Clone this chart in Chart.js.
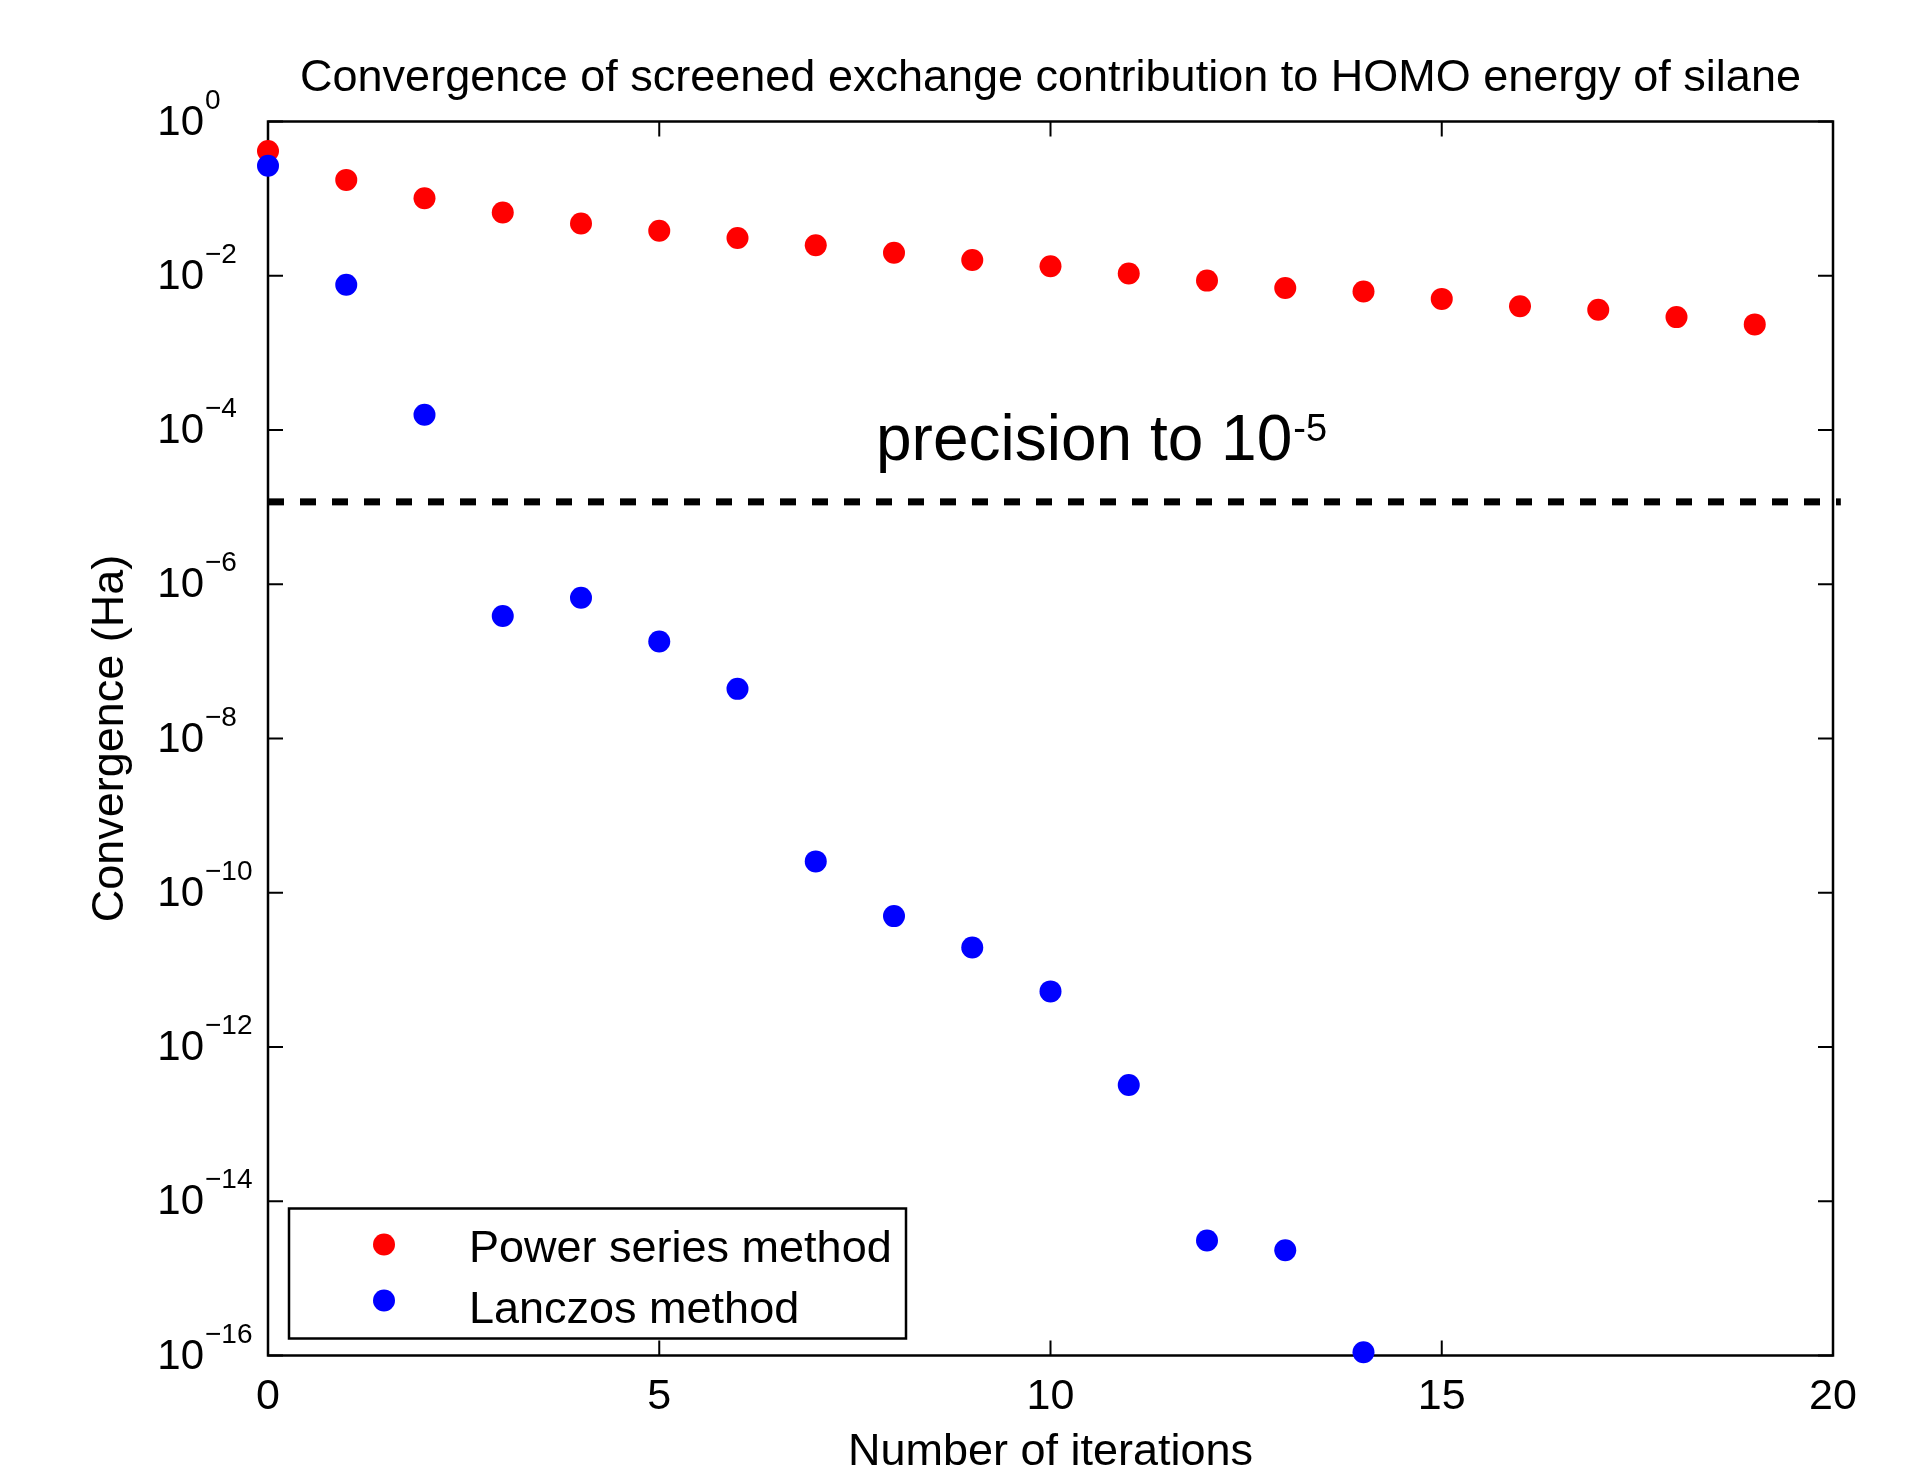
<!DOCTYPE html>
<html lang="en">
<head>
<meta charset="UTF-8">
<title>Convergence of screened exchange contribution to HOMO energy of silane</title>
<script src="https://cdn.jsdelivr.net/npm/chart.js"></script>
<style>
    html, body { margin: 0; padding: 0; background: #fff; }
    #wrap { width: 1905px; height: 1473px; position: relative; }
</style>
</head>
<body>
<div id="wrap"><canvas id="chart"></canvas></div>
<script>
    // values (log y axis)
    const powerIter = [0, 1, 2, 3, 4, 5, 6, 7, 8, 9, 10, 11, 12, 13, 14, 15, 16, 17, 18, 19];
    const powerSeries = [0.415, 0.175, 0.101, 0.0659, 0.0476, 0.0383, 0.0308, 0.0248, 0.0199, 0.0160,
                         0.0133, 0.0107, 0.00865, 0.00695, 0.00624, 0.00501, 0.00403, 0.00362, 0.00291, 0.00234];
    const lanczosIter = [0, 1, 2, 3, 4, 5, 6, 7, 8, 9, 10, 11, 12, 13, 14];
    const lanczos = [0.267, 0.00765, 1.58e-4, 3.87e-7, 6.69e-7, 1.81e-7, 4.40e-8, 2.55e-10, 4.98e-11,
                     1.95e-11, 5.26e-12, 3.22e-13, 3.10e-15, 2.32e-15, 1.10e-16];
    const precisionX = [0, 20.1];
    const precisionLevel = 1.17e-5;
    const yExponents = [0, -2, -4, -6, -8, -10, -12, -14, -16];
    const xTickValues = [0, 5, 10, 15, 20];

    const FONT = '"Liberation Sans", Arial, Helvetica, sans-serif';

    const toPoints = (xs, ys) => xs.map((x, i) => ({ x: x, y: ys[i] }));

    // box, inward ticks, y labels with exponents, annotation and legend
    const frame = {
        id: 'frame',
        beforeDatasetsDraw(chart) {
            const { ctx, chartArea: a, scales: { x, y } } = chart;
            ctx.save();
            ctx.strokeStyle = '#000';
            ctx.lineWidth = 2.5;
            ctx.strokeRect(a.left, a.top, a.right - a.left, a.bottom - a.top);
            ctx.lineWidth = 2;
            ctx.beginPath();
            xTickValues.forEach(v => {
                const px = x.getPixelForValue(v);
                ctx.moveTo(px, a.bottom); ctx.lineTo(px, a.bottom - 15);
                ctx.moveTo(px, a.top); ctx.lineTo(px, a.top + 15);
            });
            yExponents.forEach(e => {
                const py = y.getPixelForValue(Math.pow(10, e));
                ctx.moveTo(a.left, py); ctx.lineTo(a.left + 15, py);
                ctx.moveTo(a.right, py); ctx.lineTo(a.right - 15, py);
            });
            ctx.stroke();
            ctx.restore();
        },
        afterDraw(chart) {
            const { ctx, chartArea: a, scales: { x, y } } = chart;
            ctx.save();
            ctx.fillStyle = '#000';
            ctx.textBaseline = 'alphabetic';

            // y tick labels 10^e
            yExponents.forEach(e => {
                const py = y.getPixelForValue(Math.pow(10, e));
                ctx.font = '42px ' + FONT;
                ctx.textAlign = 'right';
                ctx.fillText('10', a.left - 64, py + 13);
                ctx.font = '28px ' + FONT;
                ctx.textAlign = 'left';
                ctx.fillText(e === 0 ? '0' : '\u2212' + (-e), a.left - 63, py - 13);
            });

            // annotation above the dashed line
            const ly = y.getPixelForValue(precisionLevel) - 42;
            const lx = a.left + 608;
            ctx.font = '64px ' + FONT;
            ctx.textAlign = 'left';
            const main = 'precision to 10';
            ctx.fillText(main, lx, ly);
            const w = ctx.measureText(main).width;
            ctx.font = '38px ' + FONT;
            ctx.fillText('-5', lx + w + 1, ly - 19);

            // legend box
            const bx = a.left + 21, by = a.bottom - 147, bw = 617, bh = 130;
            ctx.fillStyle = '#fff';
            ctx.fillRect(bx, by, bw, bh);
            ctx.strokeStyle = '#000';
            ctx.lineWidth = 2.5;
            ctx.strokeRect(bx, by, bw, bh);
            const rows = [chart.data.datasets[0], chart.data.datasets[1]];
            const markY = [by + 36, by + 92];
            const textY = [by + 41, by + 102];
            ctx.font = '45px ' + FONT;
            ctx.textBaseline = 'middle';
            rows.forEach((ds, i) => {
                ctx.fillStyle = ds.backgroundColor;
                ctx.beginPath();
                ctx.arc(bx + 95, markY[i], 11, 0, Math.PI * 2);
                ctx.fill();
                ctx.fillStyle = '#000';
                ctx.fillText(ds.label, bx + 180, textY[i]);
            });
            ctx.restore();
        }
    };

    new Chart(document.getElementById('chart'), {
        type: 'scatter',
        data: {
            datasets: [
                {
                    label: 'Power series method',
                    data: toPoints(powerIter, powerSeries),
                    backgroundColor: '#ff0000',
                    borderWidth: 0,
                    pointRadius: 11,
                    order: 1,
                    clip: false
                },
                {
                    label: 'Lanczos method',
                    data: toPoints(lanczosIter, lanczos),
                    backgroundColor: '#0000ff',
                    borderWidth: 0,
                    pointRadius: 11,
                    order: 0,
                    clip: false
                },
                {
                    label: 'precision to 10^-5',
                    data: precisionX.map(v => ({ x: v, y: precisionLevel })),
                    showLine: true,
                    borderColor: '#000',
                    borderWidth: 7,
                    borderDash: [16, 16],
                    pointRadius: 0,
                    order: 2,
                    clip: false
                }
            ]
        },
        options: {
            responsive: true,
            maintainAspectRatio: false,
            animation: false,
            layout: { padding: { left: 0, right: 72, top: 0, bottom: 0 } },
            plugins: {
                legend: { display: false },
                tooltip: { enabled: false },
                title: {
                    display: true,
                    fullSize: false,
                    text: 'Convergence of screened exchange contribution to HOMO energy of silane',
                    color: '#000',
                    font: { family: FONT, size: 45, weight: 'normal' },
                    padding: { top: 52, bottom: 15.5 }
                }
            },
            scales: {
                x: {
                    type: 'linear',
                    position: 'bottom',
                    min: 0,
                    max: 20,
                    grid: { display: false },
                    border: { display: false },
                    ticks: { stepSize: 5, color: '#000', font: { family: FONT, size: 43 }, padding: 8 },
                    title: {
                        display: true,
                        text: 'Number of iterations',
                        color: '#000',
                        font: { family: FONT, size: 45 },
                        padding: { top: 0, bottom: -7 }
                    },
                    afterFit: s => { s.height = 117.5; }
                },
                y: {
                    type: 'logarithmic',
                    position: 'left',
                    min: 1e-16,
                    max: 1,
                    grid: { display: false },
                    border: { display: false },
                    ticks: { display: false },
                    title: {
                        display: true,
                        text: 'Convergence (Ha)',
                        color: '#000',
                        font: { family: FONT, size: 45 },
                        padding: { top: 84, bottom: 0 }
                    },
                    afterFit: s => { s.width = 268; }
                }
            }
        },
        plugins: [frame]
    });
</script>
</body>
</html>
